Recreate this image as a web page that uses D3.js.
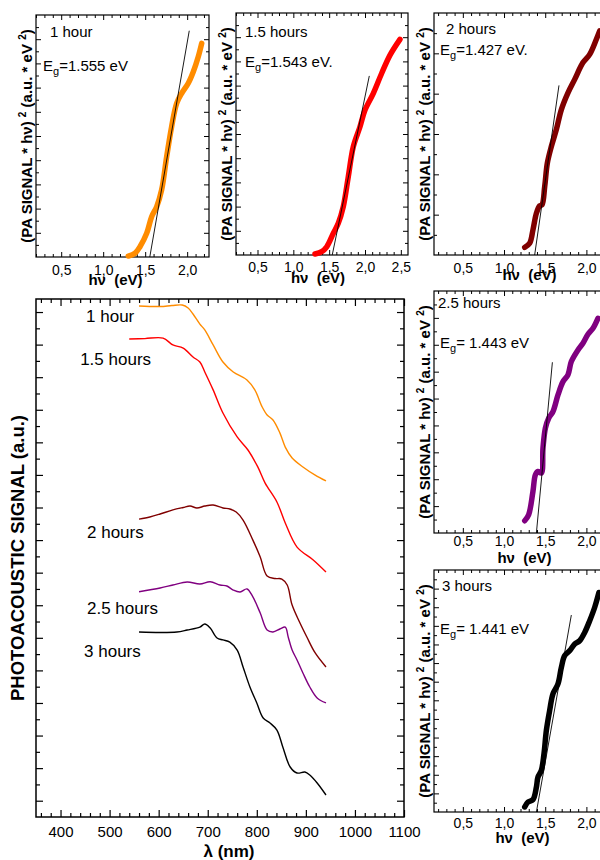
<!DOCTYPE html>
<html>
<head>
<meta charset="utf-8">
<script src="https://cdn.jsdelivr.net/npm/d3@7"></script>
<style>
  body { margin: 0; background: #fff; }
  svg { display: block; }
  text { font-family: "Liberation Sans", Arial, Helvetica, sans-serif; }
</style>
</head>
<body>
<svg id="chart" width="600" height="860"></svg>
<script>
// ---- main panel: photoacoustic spectra (wavelength nm, signal a.u.)
const wl1h = [560, 603, 627, 648, 660, 670, 684, 694, 711, 731, 752, 780, 796, 811, 821, 833, 847, 858, 872, 894, 919, 941];
const sig1h = [31.37, 31.34, 31.40, 31.43, 31.25, 30.88, 30.26, 29.90, 28.98, 27.93, 27.32, 26.83, 26.22, 25.17, 24.68, 24.37, 23.58, 22.71, 22.04, 21.49, 20.99, 20.63];

const wl15h = [540, 572, 609, 629, 650, 670, 684, 694, 711, 731, 760, 782, 802, 817, 841, 858, 882, 915, 941];
const sig15h = [29.34, 29.37, 29.40, 28.98, 28.79, 28.24, 27.93, 27.32, 26.22, 24.80, 23.33, 22.53, 21.49, 20.50, 19.34, 18.05, 16.57, 15.78, 15.04];

const wl2h = [560, 582, 603, 629, 650, 664, 678, 694, 711, 731, 745, 758, 772, 792, 807, 821, 837, 851, 862, 872, 888, 902, 919, 941];
const sig2h = [18.29, 18.42, 18.60, 18.85, 19.0, 19.09, 18.97, 19.09, 19.15, 18.97, 18.91, 18.72, 18.23, 17.0, 15.96, 14.79, 14.64, 14.61, 14.24, 13.01, 11.91, 11.05, 10.07, 9.21];

const wl25h = [560, 603, 629, 658, 684, 705, 725, 739, 752, 766, 780, 792, 807, 821, 833, 847, 858, 864, 872, 882, 894, 908, 923, 941];
const sig25h = [13.83, 14.06, 14.24, 14.43, 14.30, 14.44, 14.24, 14.18, 13.93, 13.81, 14.0, 13.51, 12.52, 11.48, 11.36, 11.54, 11.66, 11.05, 10.25, 9.64, 8.84, 7.98, 7.31, 7.0];

const wl3h = [560, 603, 637, 658, 684, 694, 705, 719, 731, 745, 760, 772, 786, 800, 813, 827, 841, 853, 868, 882, 898, 908, 923, 941];
const sig3h = [11.36, 11.33, 11.36, 11.48, 11.66, 11.85, 11.60, 10.99, 10.87, 10.74, 10.25, 9.21, 7.98, 7.0, 6.08, 5.77, 5.34, 4.30, 3.07, 2.70, 2.76, 2.58, 2.09, 1.35];

const seriesNames = ['1 hour', '1.5 hours', '2 hours', '2.5 hours', '3 hours'];
const seriesColors = ['#ff8c00', '#ff0000', '#800000', '#800080', '#000000'];
const labelWl = [452, 440, 454, 454, 448];
const labelSig = [30.39, 27.75, 17.13, 12.46, 9.82];
const mainXTicks = [400, 500, 600, 700, 800, 900, 1000, 1100];

// ---- insets: (PA signal * hv)^2 vs photon energy (eV)
const ev1h = [1.299, 1.379, 1.438, 1.518, 1.577, 1.637, 1.696, 1.756, 1.815, 1.875, 1.935, 2.013, 2.073, 2.132, 2.173];
const pa1h = [0.08, 0.31, 0.85, 1.96, 3.33, 4.16, 5.54, 8.29, 10.77, 12.70, 13.53, 14.36, 15.31, 16.55, 17.66];
const fit1h = [[1.555, 0], [2.025, 18.7]];

const ev15h = [1.302, 1.396, 1.466, 1.558, 1.627, 1.697, 1.767, 1.837, 1.930, 2.0, 2.116, 2.233, 2.349, 2.488];
const pa15h = [0.04, 0.14, 0.34, 0.90, 1.31, 2.0, 3.24, 4.48, 5.30, 5.99, 6.68, 7.51, 8.26, 8.91];
const fit15h = [[1.543, 0], [2.06, 7.4]];

const ev2h = [1.251, 1.311, 1.351, 1.393, 1.433, 1.461, 1.494, 1.526, 1.575, 1.635, 1.696, 1.776, 1.858, 1.958, 2.040, 2.121, 2.161];
const pa2h = [0.38, 0.58, 1.24, 2.07, 2.44, 2.49, 3.40, 4.56, 5.39, 6.22, 7.21, 8.04, 8.71, 9.54, 9.95, 10.70, 11.11];
const fit2h = [[1.372, 0], [1.667, 8.41]];

const ev25h = [1.251, 1.299, 1.351, 1.381, 1.412, 1.453, 1.473, 1.502, 1.542, 1.594, 1.655, 1.716, 1.776, 1.817, 1.898, 1.958, 2.019, 2.080, 2.140];
const pa25h = [0.91, 1.36, 3.09, 4.33, 4.58, 4.46, 6.32, 7.80, 8.54, 9.03, 10.27, 11.26, 11.76, 12.75, 13.62, 14.12, 14.78, 15.23, 15.97];
const fit25h = [[1.393, 0], [1.587, 12.7]];

const ev3h = [1.251, 1.291, 1.351, 1.393, 1.412, 1.453, 1.485, 1.514, 1.554, 1.594, 1.655, 1.696, 1.736, 1.797, 1.858, 1.918, 1.979, 2.040, 2.100, 2.152];
const pa3h = [0.54, 1.07, 1.33, 2.68, 3.75, 4.47, 6.26, 8.76, 10.90, 12.69, 13.76, 15.54, 16.80, 17.34, 18.05, 18.40, 19.29, 20.55, 21.97, 23.58];
const fit3h = [[1.393, 0], [1.817, 21.16]];

const egTexts = ['=1.555 eV', '=1.543 eV.', '=1.427 eV.', '= 1.443 eV', '= 1.441 eV'];

const svg = d3.select('#chart');

// ---------- main panel ----------
const M = { left: 36, right: 404, top: 299, bottom: 817 };
const x = d3.scaleLinear().domain([350, 1100]).range([M.left, M.right]);
const y = d3.scaleLinear().domain([0, 31.8]).range([M.bottom, M.top]);

const noDomain = g => g.select('.domain').remove();
const minorX = d3.range(360, 1100, 20).filter(v => v % 100 !== 0);
const majorY = d3.range(1, 32, 2);
const minorY = d3.range(2, 32, 2);

const main = svg.append('g');

main.append('g').attr('transform', `translate(0,${M.bottom})`)
  .call(d3.axisBottom(x).tickValues(mainXTicks).tickSizeInner(-7).tickSizeOuter(0).tickPadding(9).tickFormat(d3.format('d')))
  .call(noDomain)
  .call(g => g.selectAll('text').attr('font-size', 15).attr('fill', '#000').attr('font-family', null));
main.append('g').attr('transform', `translate(0,${M.bottom})`)
  .call(d3.axisBottom(x).tickValues(minorX).tickSizeInner(-4).tickSizeOuter(0).tickFormat(''))
  .call(noDomain);
main.append('g').attr('transform', `translate(0,${M.top})`)
  .call(d3.axisTop(x).tickValues(mainXTicks).tickSizeInner(-7).tickSizeOuter(0).tickFormat(''))
  .call(noDomain);
main.append('g').attr('transform', `translate(0,${M.top})`)
  .call(d3.axisTop(x).tickValues(minorX).tickSizeInner(-4).tickSizeOuter(0).tickFormat(''))
  .call(noDomain);
[[d3.axisLeft, M.left], [d3.axisRight, M.right]].forEach(([ax, pos]) => {
  main.append('g').attr('transform', `translate(${pos},0)`)
    .call(ax(y).tickValues(majorY).tickSizeInner(-7).tickSizeOuter(0).tickFormat(''))
    .call(noDomain);
  main.append('g').attr('transform', `translate(${pos},0)`)
    .call(ax(y).tickValues(minorY).tickSizeInner(-4).tickSizeOuter(0).tickFormat(''))
    .call(noDomain);
});
main.selectAll('.tick line').attr('stroke', '#000').attr('stroke-width', 1.2);

main.append('rect')
  .attr('x', M.left).attr('y', M.top)
  .attr('width', M.right - M.left).attr('height', M.bottom - M.top)
  .attr('fill', 'none').attr('stroke', '#000').attr('stroke-width', 1.5);

const mainWl = [wl1h, wl15h, wl2h, wl25h, wl3h];
const mainSig = [sig1h, sig15h, sig2h, sig25h, sig3h];
const mainLine = d3.line().x(d => x(d[0])).y(d => y(d[1])).curve(d3.curveCatmullRom.alpha(0.5));

mainWl.forEach((wl, i) => {
  main.append('path')
    .datum(d3.zip(wl, mainSig[i]))
    .attr('d', mainLine)
    .attr('fill', 'none')
    .attr('stroke', seriesColors[i])
    .attr('stroke-width', 1.4);
  main.append('text')
    .attr('x', x(labelWl[i])).attr('y', y(labelSig[i]))
    .attr('font-size', 17)
    .text(seriesNames[i]);
});

main.append('text')
  .attr('x', (M.left + M.right) / 2 + 9).attr('y', 857)
  .attr('text-anchor', 'middle').attr('font-size', 17).attr('font-weight', 'bold')
  .text('λ (nm)');

main.append('text')
  .attr('transform', `translate(24,${(M.top + M.bottom) / 2}) rotate(-90)`)
  .attr('text-anchor', 'middle').attr('font-size', 18.5).attr('font-weight', 'bold')
  .text('PHOTOACOUSTIC SIGNAL (a.u.)');

// ---------- insets ----------
const insets = [
  { x0: 36, x1: 209, y0: 15, y1: 257, xDom: [0.2, 2.26], yDom: [0, 20], yMinor: 1, lab: 18, ttl: 28, tdx: -7,
    ev: ev1h, pa: pa1h, fit: fit1h, name: [14, 22], eg: [7, 56] },
  { x0: 236, x1: 408, y0: 13, y1: 255, xDom: [0.2, 2.6], yDom: [0, 10], yMinor: 0.5, lab: 17, ttl: 28, tdx: -4,
    ev: ev15h, pa: pa15h, fit: fit15h, name: [9, 24], eg: [9, 54] },
  { x0: 434, x1: 607, y0: 13, y1: 255, xDom: [0.15, 2.25], yDom: [0, 12], yMinor: 1, lab: 18, ttl: 25, tdx: 9,
    ev: ev2h, pa: pa2h, fit: fit2h, name: [12, 21], eg: [6, 42] },
  { x0: 434, x1: 607, y0: 291, y1: 533, xDom: [0.15, 2.25], yDom: [0, 18], yMinor: 1, lab: 13, ttl: 30, tdx: 4,
    ev: ev25h, pa: pa25h, fit: fit25h, name: [4, 17], eg: [6, 57] },
  { x0: 434, x1: 607, y0: 570, y1: 812, xDom: [0.15, 2.25], yDom: [0, 26], yMinor: 1, lab: 16, ttl: 31, tdx: 2,
    ev: ev3h, pa: pa3h, fit: fit3h, name: [8, 21], eg: [6, 64] }
];

const commaFmt = v => d3.format('.1f')(v).replace('.', ',');

insets.forEach((p, i) => {
  const g = svg.append('g');
  const sx = d3.scaleLinear().domain(p.xDom).range([p.x0, p.x1]);
  const sy = d3.scaleLinear().domain(p.yDom).range([p.y1, p.y0]);

  const xMajor = d3.range(0.5, p.xDom[1] + 1e-6, 0.5);
  const xMinor = d3.range(Math.ceil(p.xDom[0] * 10) / 10, p.xDom[1], 0.1)
    .filter(v => Math.abs(v * 2 - Math.round(v * 2)) > 1e-6);
  const yMajor = d3.range(p.yMinor * 2, p.yDom[1], p.yMinor * 2);
  const yMinorV = d3.range(p.yMinor, p.yDom[1], p.yMinor * 2);

  g.append('g').attr('transform', `translate(0,${p.y1})`)
    .call(d3.axisBottom(sx).tickValues(xMajor).tickSizeInner(-5).tickSizeOuter(0).tickPadding(p.lab - 10).tickFormat(commaFmt))
    .call(noDomain)
    .call(a => a.selectAll('text').attr('font-size', 14).attr('fill', '#000').attr('font-family', null));
  g.append('g').attr('transform', `translate(0,${p.y1})`)
    .call(d3.axisBottom(sx).tickValues(xMinor).tickSizeInner(-3).tickSizeOuter(0).tickFormat(''))
    .call(noDomain);
  g.append('g').attr('transform', `translate(0,${p.y0})`)
    .call(d3.axisTop(sx).tickValues(xMajor).tickSizeInner(-5).tickSizeOuter(0).tickFormat(''))
    .call(noDomain);
  g.append('g').attr('transform', `translate(0,${p.y0})`)
    .call(d3.axisTop(sx).tickValues(xMinor).tickSizeInner(-3).tickSizeOuter(0).tickFormat(''))
    .call(noDomain);
  [[d3.axisLeft, p.x0], [d3.axisRight, p.x1]].forEach(([ax, pos]) => {
    g.append('g').attr('transform', `translate(${pos},0)`)
      .call(ax(sy).tickValues(yMajor).tickSizeInner(-5).tickSizeOuter(0).tickFormat(''))
      .call(noDomain);
    g.append('g').attr('transform', `translate(${pos},0)`)
      .call(ax(sy).tickValues(yMinorV).tickSizeInner(-3).tickSizeOuter(0).tickFormat(''))
      .call(noDomain);
  });
  g.selectAll('.tick line').attr('stroke', '#000');

  g.append('rect')
    .attr('x', p.x0).attr('y', p.y0)
    .attr('width', p.x1 - p.x0).attr('height', p.y1 - p.y0)
    .attr('fill', 'none').attr('stroke', '#000').attr('stroke-width', 1.2);

  g.append('path')
    .datum(d3.zip(p.ev, p.pa))
    .attr('d', d3.line().x(d => sx(d[0])).y(d => sy(d[1])).curve(d3.curveCatmullRom.alpha(0.5)))
    .attr('fill', 'none')
    .attr('stroke', seriesColors[i])
    .attr('stroke-width', 5.5)
    .attr('stroke-linecap', 'round')
    .attr('stroke-linejoin', 'round');

  g.append('line')
    .attr('x1', sx(p.fit[0][0])).attr('y1', sy(p.fit[0][1]))
    .attr('x2', sx(p.fit[1][0])).attr('y2', sy(p.fit[1][1]))
    .attr('stroke', '#000').attr('stroke-width', 0.9);

  g.append('text')
    .attr('x', p.x0 + p.name[0]).attr('y', p.y0 + p.name[1])
    .attr('font-size', 15)
    .text(seriesNames[i]);

  const eg = g.append('text')
    .attr('x', p.x0 + p.eg[0]).attr('y', p.y0 + p.eg[1])
    .attr('font-size', 15);
  eg.append('tspan').text('E');
  eg.append('tspan').attr('dy', 4).attr('font-size', 11).text('g');
  eg.append('tspan').attr('dy', -4).text(egTexts[i]);

  g.append('text')
    .attr('x', (p.x0 + p.x1) / 2 + p.tdx).attr('y', p.y1 + p.ttl)
    .attr('text-anchor', 'middle').attr('font-size', 15).attr('font-weight', 'bold')
    .style('white-space', 'pre')
    .text('hν  (eV)');

  const yl = g.append('text')
    .attr('transform', `translate(${p.x0 - 4},${(p.y0 + p.y1) / 2}) rotate(-90)`)
    .attr('text-anchor', 'middle').attr('font-size', 15).attr('font-weight', 'bold');
  yl.append('tspan').text('(PA SIGNAL * hν) ');
  yl.append('tspan').attr('dy', -6).attr('font-size', 10).text('2');
  yl.append('tspan').attr('dy', 6).text(' (a.u. * eV ');
  yl.append('tspan').attr('dy', -6).attr('font-size', 10).text('2');
  yl.append('tspan').attr('dy', 6).text(')');
});
</script>
</body>
</html>
